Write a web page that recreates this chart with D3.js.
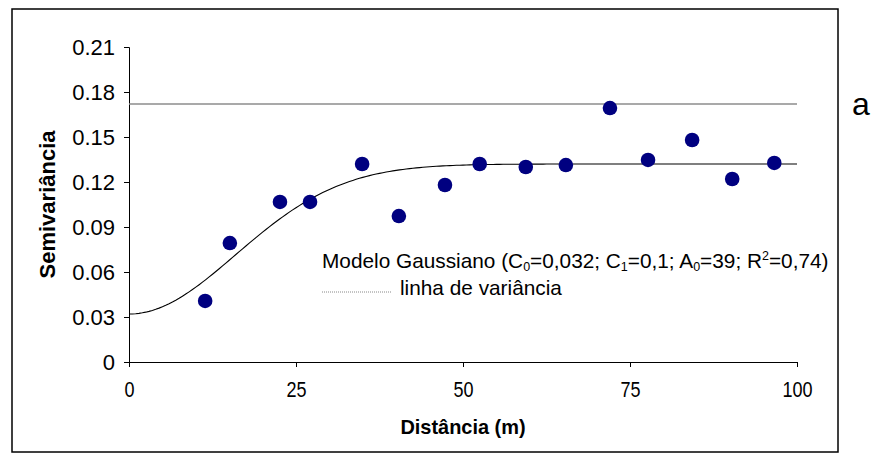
<!DOCTYPE html>
<html>
<head>
<meta charset="utf-8">
<script src="https://cdn.jsdelivr.net/npm/d3@7"></script>
<style>
  html, body { margin: 0; padding: 0; background: #fff; }
  svg { display: block; font-family: "Liberation Sans", Arial, sans-serif; }
</style>
</head>
<body>
<svg id="chart" width="877" height="461"></svg>
<script>
// Experimental semivariogram: lag distance (m) and semivariance
const distances = [11.4, 15.1, 22.6, 27.1, 34.9, 40.4, 47.3, 52.5, 59.4, 65.4, 72.0, 77.7, 84.3, 90.3, 96.6];
const semivariances = [0.0407, 0.0793, 0.1067, 0.1067, 0.132, 0.0973, 0.118, 0.132, 0.130, 0.1313, 0.1693, 0.1347, 0.148, 0.122, 0.1327];

// Fitted Gaussian model parameters and sample variance
const nugget = 0.032;      // C0
const partialSill = 0.1;   // C1
const range = 39;          // A0
const sampleVariance = 0.172;

const xTicks = [0, 25, 50, 75, 100];
const yTicks = [0, 0.03, 0.06, 0.09, 0.12, 0.15, 0.18, 0.21];
const yTickLabels = ["0", "0.03", "0.06", "0.09", "0.12", "0.15", "0.18", "0.21"];

const svg = d3.select("#chart");

const plot = { left: 129, right: 797, top: 47, bottom: 362 };
const x = d3.scaleLinear().domain([0, 100]).range([plot.left, plot.right]);
const y = d3.scaleLinear().domain([0, 0.21]).range([plot.bottom, plot.top]);

// Outer frame
svg.append("rect")
  .attr("x", 12).attr("y", 9).attr("width", 826).attr("height", 443)
  .attr("fill", "none").attr("stroke", "#000").attr("stroke-width", 1.5);

// Axes
const yAxis = d3.axisLeft(y).tickValues(yTicks).tickSize(5)
  .tickFormat((d, i) => yTickLabels[i]).tickPadding(9);
const gy = svg.append("g").attr("transform", `translate(${plot.left},0)`).call(yAxis);
gy.select(".domain").attr("stroke", "#000");
gy.selectAll(".tick line").attr("stroke", "#000");
gy.selectAll("text").attr("font-size", 22).attr("fill", "#000")
  .attr("font-family", "Liberation Sans, Arial, sans-serif");

const xAxis = d3.axisBottom(x).tickValues(xTicks).tickSize(5).tickPadding(14);
const gx = svg.append("g").attr("transform", `translate(0,${plot.bottom})`).call(xAxis);
gx.select(".domain").attr("stroke", "#000");
gx.selectAll(".tick line").attr("stroke", "#000");
gx.selectAll("text").attr("font-size", 22).attr("fill", "#000")
  .attr("font-family", "Liberation Sans, Arial, sans-serif")
  .attr("transform", "scale(0.82,1)");

// Axis titles
svg.append("text")
  .attr("transform", `translate(${(plot.left + plot.right) / 2},434) scale(0.95,1)`)
  .attr("text-anchor", "middle").attr("font-size", 21).attr("font-weight", "bold")
  .text("Distância (m)");

svg.append("text")
  .attr("transform", `translate(55,${(plot.top + plot.bottom) / 2}) rotate(-90)`)
  .attr("text-anchor", "middle").attr("font-size", 22).attr("font-weight", "bold")
  .text("Semivariância");

// Sample variance line
svg.append("line")
  .attr("x1", x(0)).attr("x2", x(100))
  .attr("y1", y(sampleVariance)).attr("y2", y(sampleVariance))
  .attr("stroke", "#8c8c8c").attr("stroke-width", 1.5);

// Gaussian model curve
const gaussian = h => nugget + partialSill * (1 - Math.exp(-3 * h * h / (range * range)));
const hs = d3.range(0, 100.01, 0.5);
svg.append("path")
  .datum(hs)
  .attr("fill", "none").attr("stroke", "#000").attr("stroke-width", 1.1)
  .attr("d", d3.line().x(h => x(h)).y(h => y(gaussian(h))));

// Observed semivariances
const pts = distances.map((d, i) => ({ d, v: semivariances[i] }));
svg.append("g").selectAll("circle").data(pts).join("circle")
  .attr("cx", p => x(p.d)).attr("cy", p => y(p.v)).attr("r", 7.3)
  .attr("fill", "#000080");

// Legend
const legend = svg.append("g").attr("font-size", 20.8).attr("fill", "#000");
const l1 = legend.append("text").attr("x", 322).attr("y", 268);
l1.append("tspan").text("Modelo Gaussiano (C");
l1.append("tspan").attr("font-size", 12.5).attr("dy", 3).text("0");
l1.append("tspan").attr("dy", -3).text("=0,032; C");
l1.append("tspan").attr("font-size", 12.5).attr("dy", 3).text("1");
l1.append("tspan").attr("dy", -3).text("=0,1; A");
l1.append("tspan").attr("font-size", 12.5).attr("dy", 3).text("0");
l1.append("tspan").attr("dy", -3).text("=39; R");
l1.append("tspan").attr("font-size", 12.5).attr("dy", -8).text("2");
l1.append("tspan").attr("dy", 8).text("=0,74)");

legend.append("line")
  .attr("x1", 322).attr("x2", 392).attr("y1", 292).attr("y2", 292)
  .attr("stroke", "#888").attr("stroke-width", 1).attr("stroke-dasharray", "1,1");
legend.append("text").attr("x", 400).attr("y", 295).text("linha de variância");

// Panel letter
svg.append("text").attr("x", 852).attr("y", 115).attr("font-size", 32).attr("fill", "#000").text("a");
</script>
</body>
</html>
